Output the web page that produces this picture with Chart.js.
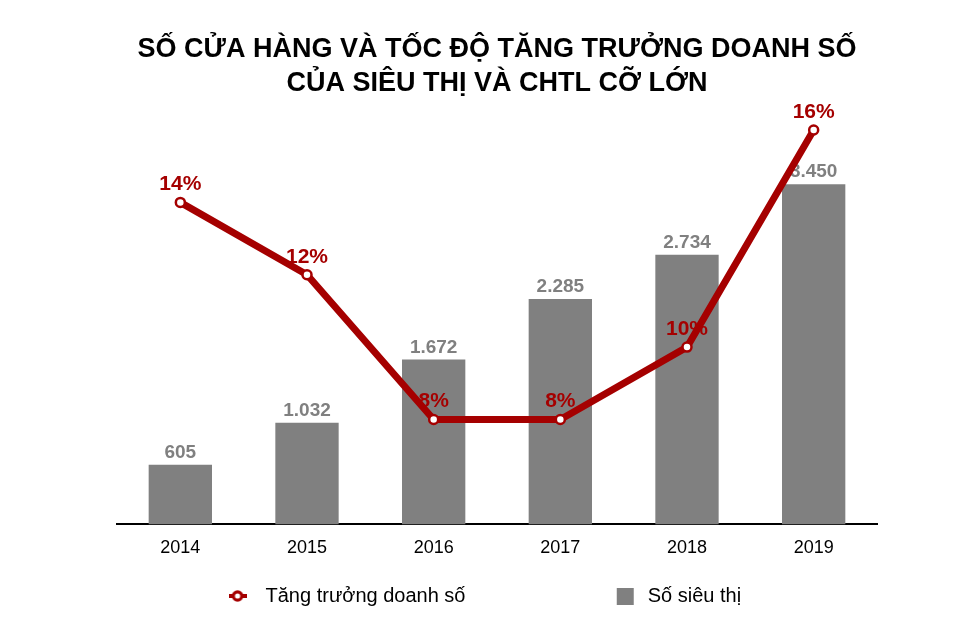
<!DOCTYPE html>
<html lang="vi">
<head>
  <meta charset="UTF-8">
  <title>Số cửa hàng và tốc độ tăng trưởng doanh số</title>
  <script src="https://cdn.jsdelivr.net/npm/chart.js"></script>
  <style>
    body { margin: 0; background: #fff; }
    #wrap { width: 980px; height: 638px; }
  </style>
</head>
<body>
  <div id="wrap"><canvas id="chart" width="980" height="638"></canvas></div>

  <script>
    const years = ["2014", "2015", "2016", "2017", "2018", "2019"];
    const storeCount = [605, 1032, 1672, 2285, 2734, 3450];
    const salesGrowth = [14, 12, 8, 8, 10, 16];

    const RED = "#a50000";
    const GRAY = "#808080";
    const FONT = "'Liberation Sans', Arial, sans-serif";

    function fmtThousands(v) {
      return String(v).replace(/\B(?=(\d{3})+(?!\d))/g, ".");
    }

    // legend icons
    function lineIcon() {
      const c = document.createElement("canvas");
      c.width = 18; c.height = 16;
      const g = c.getContext("2d");
      g.strokeStyle = RED; g.lineWidth = 4;
      g.beginPath(); g.moveTo(0, 8); g.lineTo(18, 8); g.stroke();
      g.fillStyle = "#fff"; g.lineWidth = 3.2;
      g.beginPath(); g.arc(9, 8, 4.2, 0, Math.PI * 2); g.fill(); g.stroke();
      return c;
    }
    function boxIcon() {
      const c = document.createElement("canvas");
      c.width = 30; c.height = 17;
      const g = c.getContext("2d");
      g.fillStyle = GRAY; g.fillRect(12, 0, 17, 17);
      return c;
    }
    const legendIcons = [lineIcon(), boxIcon()];
    const legendPad = [22, 6];

    const labelPlugin = {
      id: "valueLabels",
      afterDatasetDraw(chart, args) {
        const ctx = chart.ctx;
        const meta = args.meta;
        ctx.save();
        ctx.textAlign = "center";
        ctx.textBaseline = "alphabetic";
        if (meta.type === "bar") {
          ctx.font = "bold 19px " + FONT;
          ctx.fillStyle = GRAY;
          meta.data.forEach((el, i) => {
            ctx.fillText(fmtThousands(storeCount[i]), el.x, el.y - 7);
          });
        } else {
          ctx.font = "bold 21px " + FONT;
          ctx.fillStyle = RED;
          meta.data.forEach((el, i) => {
            ctx.fillText(salesGrowth[i] + "%", el.x, el.y - 12);
          });
        }
        ctx.restore();
      }
    };

    new Chart(document.getElementById("chart"), {
      data: {
        labels: years,
        datasets: [
          {
            type: "line",
            label: "Tăng trưởng doanh số",
            data: salesGrowth,
            yAxisID: "yGrowth",
            borderColor: RED,
            borderWidth: 7,
            pointRadius: 4.5,
            pointBorderWidth: 2.5,
            pointBackgroundColor: "#fff",
            pointBorderColor: RED,
            pointStyle: "circle",
            tension: 0,
            clip: false,
            order: 0
          },
          {
            type: "bar",
            label: "Số siêu thị",
            data: storeCount,
            yAxisID: "yStores",
            backgroundColor: GRAY,
            categoryPercentage: 1,
            barPercentage: 0.5,
            order: 1
          }
        ]
      },
      options: {
        responsive: false,
        animation: false,
        layout: { padding: { top: 16, left: 117, right: 103, bottom: 22 } },
        plugins: {
          title: {
            display: true,
            text: ["SỐ CỬA HÀNG VÀ TỐC ĐỘ TĂNG TRƯỞNG DOANH SỐ", "CỦA SIÊU THỊ VÀ CHTL CỠ LỚN"],
            color: "#000",
            font: { family: FONT, size: 27, weight: "bold", lineHeight: 1.26 },
            padding: { top: 17, bottom: 29 }
          },
          legend: {
            position: "bottom",
            labels: {
              color: "#000",
              font: { family: FONT, size: 20 },
              usePointStyle: true,
              pointStyleWidth: 36,
              padding: 14,
              generateLabels(chart) {
                return chart.data.datasets.map((ds, i) => ({
                  text: ds.label + " ".repeat(legendPad[i]),
                  pointStyle: legendIcons[i],
                  fillStyle: "transparent",
                  strokeStyle: "transparent",
                  lineWidth: 0,
                  datasetIndex: i
                }));
              }
            }
          },
          tooltip: { enabled: false }
        },
        scales: {
          x: {
            grid: { display: false, drawTicks: false },
            border: { display: true, color: "#000", width: 2 },
            ticks: { color: "#000", font: { family: FONT, size: 18 }, padding: 13 }
          },
          yStores: {
            display: false,
            min: 0,
            max: 4000
          },
          yGrowth: {
            display: false,
            min: 5.1,
            max: 16
          }
        }
      },
      plugins: [labelPlugin]
    });
  </script>
</body>
</html>
